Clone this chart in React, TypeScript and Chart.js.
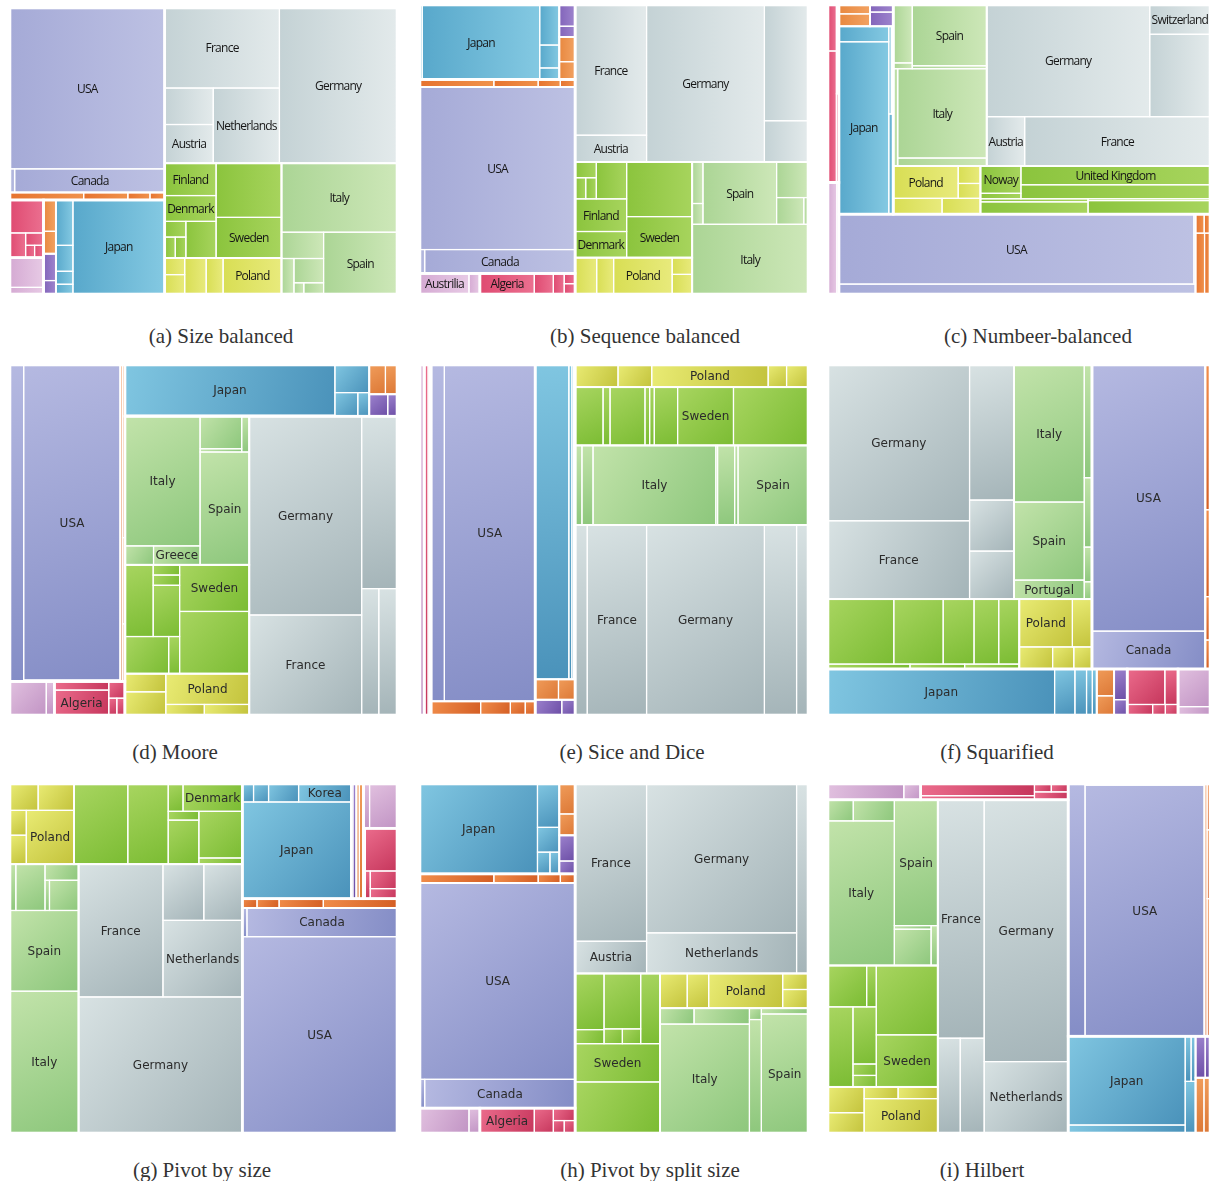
import React, { useEffect, useRef } from "react";
import { Chart, registerables } from "chart.js";

Chart.register(...registerables);

/* ---------- data: share of the total (%) by country, grouped by region ---------- */
const CONTINENTS = ["Americas", "Asia", "Europe", "Africa", "Oceania"];

const REGIONS = [
  "Northern America", "Latin America", "Eastern Asia", "Western Asia", "Southern Asia",
  "Western Europe", "Northern Europe", "Southern Europe", "Eastern Europe", "African states", "Australasia",
];
const REGION_CONTINENT = [
  "Americas", "Americas", "Asia", "Asia", "Asia",
  "Europe", "Europe", "Europe", "Europe", "Africa", "Oceania",
];

const NORTHERN_AMERICA = ["USA", "Bermuda", "Canada"];
const NORTHERN_AMERICA_VALUES = [22.5, 0.1, 3.2];
const LATIN_AMERICA = ["Mexico", "Brazil", "Argentina", "Chile"];
const LATIN_AMERICA_VALUES = [0.5, 0.3, 0.15, 0.1];
const EASTERN_ASIA = ["Japan", "Korea", "China", "Taiwan", "Singapore"];
const EASTERN_ASIA_VALUES = [7.8, 0.7, 0.4, 0.2, 0.15];
const WESTERN_ASIA = ["Israel", "Turkey"];
const WESTERN_ASIA_VALUES = [0.35, 0.25];
const SOUTHERN_ASIA = ["India", "Indonesia"];
const SOUTHERN_ASIA_VALUES = [0.3, 0.15];
const WESTERN_EUROPE = ["Austria", "France", "Germany", "Netherlands", "Switzerland"];
const WESTERN_EUROPE_VALUES = [1.7, 8.3, 16.5, 4.5, 1.6];
const NORTHERN_EUROPE = ["Denmark", "Estonia", "Finland", "Iceland", "Latvia", "Noway", "Sweden", "United Kingdom"];
const NORTHERN_EUROPE_VALUES = [1.2, 0.3, 1.5, 0.2, 0.2, 1.0, 2.4, 3.2];
const SOUTHERN_EUROPE = ["Croatia", "Greece", "Italy", "Malta", "Portugal", "Slovenia", "Spain"];
const SOUTHERN_EUROPE_VALUES = [0.4, 0.65, 7.2, 0.1, 1.0, 0.2, 4.1];
const EASTERN_EUROPE = ["Czechia", "Hungary", "Poland", "Romania", "Slovakia"];
const EASTERN_EUROPE_VALUES = [0.7, 0.55, 1.9, 0.3, 0.35];
const AFRICAN_STATES = ["Algeria", "Egypt", "Morocco", "Tunisia", "South Africa"];
const AFRICAN_STATES_VALUES = [1.0, 0.35, 0.2, 0.1, 0.1];
const AUSTRALASIA = ["Austrilia", "New Zealand"];
const AUSTRALASIA_VALUES = [0.9, 0.2];

const REGION_COUNTRIES = [
  NORTHERN_AMERICA, LATIN_AMERICA, EASTERN_ASIA, WESTERN_ASIA, SOUTHERN_ASIA,
  WESTERN_EUROPE, NORTHERN_EUROPE, SOUTHERN_EUROPE, EASTERN_EUROPE, AFRICAN_STATES, AUSTRALASIA,
];
const REGION_VALUES = [
  NORTHERN_AMERICA_VALUES, LATIN_AMERICA_VALUES, EASTERN_ASIA_VALUES, WESTERN_ASIA_VALUES, SOUTHERN_ASIA_VALUES,
  WESTERN_EUROPE_VALUES, NORTHERN_EUROPE_VALUES, SOUTHERN_EUROPE_VALUES, EASTERN_EUROPE_VALUES,
  AFRICAN_STATES_VALUES, AUSTRALASIA_VALUES,
];

/* sibling order used by each layout (names not listed keep their data order) */
const ORDER_SIZE = [
  "Americas", "Africa", "Oceania", "Asia", "Europe",
  "Northern America", "Latin America", "Western Asia", "Southern Asia", "Eastern Asia",
  "Western Europe", "Northern Europe", "Eastern Europe", "Southern Europe",
  "USA", "Bermuda", "Canada", "Korea", "China", "Taiwan", "Singapore", "Japan",
  "France", "Switzerland", "Austria", "Netherlands", "Germany",
  "Finland", "Denmark", "Estonia", "Iceland", "Latvia", "Noway", "United Kingdom", "Sweden",
  "Italy", "Portugal", "Croatia", "Greece", "Malta", "Slovenia", "Spain",
  "Romania", "Slovakia", "Czechia", "Hungary", "Poland",
];
const ORDER_SEQUENCE = [
  "Asia", "Americas", "Oceania", "Africa", "Europe",
  "Eastern Asia", "Southern Asia", "Western Asia", "Latin America", "Northern America",
  "Western Europe", "Northern Europe", "Eastern Europe", "Southern Europe",
  "Singapore", "Japan", "Korea", "China", "Taiwan", "USA", "Bermuda", "Canada",
  "France", "Austria", "Germany", "Netherlands", "Switzerland",
  "Estonia", "Iceland", "Latvia", "Noway", "Finland", "Denmark", "United Kingdom", "Sweden",
  "Croatia", "Slovenia", "Spain", "Portugal", "Greece", "Malta", "Italy",
];
const ORDER_NUMBER = [
  "Oceania", "Africa", "Americas", "Asia", "Europe",
  "Northern America", "Latin America", "Canada", "USA", "Bermuda",
  "Eastern Asia", "Western Asia", "Southern Asia",
  "Eastern Europe", "Northern Europe", "Southern Europe", "Western Europe",
];
const ORDER_MOORE = [
  "Oceania", "Africa", "Americas", "Asia", "Europe",
  "Northern America", "Latin America", "Canada", "USA", "Bermuda",
  "Eastern Asia", "Western Asia", "Southern Asia", "Singapore", "Japan", "Korea", "China", "Taiwan",
  "Eastern Europe", "Northern Europe", "Southern Europe", "Western Europe",
  "France", "Germany", "Netherlands", "Switzerland", "Austria",
];
const ORDER_SLICE = [
  "Oceania", "Africa", "Americas", "Asia", "Europe",
  "Northern America", "Latin America", "Bermuda", "Canada", "USA",
  "Eastern Asia", "Western Asia", "Southern Asia",
  "Eastern Europe", "Northern Europe", "Southern Europe", "Western Europe",
];
const ORDER_PIVOT_SIZE = [
  "Oceania", "Africa", "Asia", "Americas", "Europe",
  "Western Asia", "Southern Asia", "Eastern Asia", "Korea", "China", "Taiwan", "Singapore", "Japan",
  "Latin America", "Northern America", "Canada", "Bermuda", "USA",
  "Northern Europe", "Eastern Europe", "Western Europe", "Southern Europe",
  "Switzerland", "Austria", "Netherlands", "France", "Germany",
  "Croatia", "Greece", "Malta", "Portugal", "Slovenia", "Spain", "Italy",
];
const ORDER_PIVOT_SPLIT = [
  "Asia", "Americas", "Oceania", "Africa", "Europe",
  "Eastern Asia", "Western Asia", "Southern Asia", "Latin America", "Northern America",
  "USA", "Bermuda", "Canada",
  "Western Europe", "Northern Europe", "Eastern Europe", "Southern Europe",
  "France", "Austria", "Germany", "Netherlands", "Switzerland",
];
const ORDER_HILBERT = [
  "Oceania", "Africa", "Europe", "Asia", "Americas",
  "Southern Europe", "Northern Europe", "Eastern Europe", "Western Europe",
  "Northern America", "Latin America", "Canada", "USA", "Bermuda",
  "Eastern Asia", "Western Asia", "Southern Asia",
  "France", "Switzerland", "Austria", "Netherlands", "Germany",
];

/* cell gradient colours per region: [start, end] */
const FLAT_COLORS = [
  ["#a5aad7", "#bdc1e3"], ["#e6732f", "#f0924c"], ["#58a8cb", "#84c9e2"], ["#e8883f", "#f2a262"],
  ["#8264ba", "#9e84cd"], ["#c4d2d5", "#e3eaeb"], ["#8bc43d", "#a7d45d"], ["#abd595", "#cde7b8"],
  ["#d8de54", "#e8ea7c"], ["#df4a71", "#eb7090"], ["#d5aad3", "#e7cae5"],
];
const DIAGONAL_COLORS = [
  ["#b5b9e1", "#848dc6"], ["#f08c4a", "#d45e24"], ["#80c6e1", "#4a92ba"], ["#f09c5a", "#dc7836"],
  ["#9c82cd", "#6c4ea6"], ["#d8e2e3", "#a4b4b8"], ["#a8d560", "#7bbc33"], ["#c2e3aa", "#8dc77c"],
  ["#e9eb74", "#c3c33c"], ["#eb6c8c", "#c6365c"], ["#e1c0df", "#c194c4"],
];

/* ---------- layout ---------- */
type Rect = { x: number; y: number; w: number; h: number };
type TNode = { name: string; value: number; level: number; region: number; children: TNode[] };
type Placed = { rect: Rect; depth: number };
type Algo = (vals: number[], rect: Rect, depth: number) => Placed[];

const PHI = (1 + Math.sqrt(5)) / 2;
const range = (n: number) => Array.from({ length: n }, (_, i) => i);
const total = (vals: number[], idx: number[]) => idx.reduce((s, i) => s + vals[i], 0);

function buildTree(): TNode {
  const root: TNode = { name: "World", value: 0, level: 0, region: -1, children: [] };
  CONTINENTS.forEach((c) => {
    const cn: TNode = { name: c, value: 0, level: 1, region: -1, children: [] };
    REGIONS.forEach((r, ri) => {
      if (REGION_CONTINENT[ri] !== c) return;
      const kids = REGION_COUNTRIES[ri].map((n, i) => ({
        name: n, value: REGION_VALUES[ri][i], level: 3, region: ri, children: [] as TNode[],
      }));
      const rn: TNode = { name: r, value: kids.reduce((s, k) => s + k.value, 0), level: 2, region: ri, children: kids };
      cn.children.push(rn);
    });
    cn.value = cn.children.reduce((s, k) => s + k.value, 0);
    root.children.push(cn);
  });
  root.value = root.children.reduce((s, k) => s + k.value, 0);
  return root;
}

function splitRect(r: Rect, f: number, alongX: boolean): [Rect, Rect] {
  if (alongX) {
    const w = r.w * f;
    return [{ x: r.x, y: r.y, w, h: r.h }, { x: r.x + w, y: r.y, w: r.w - w, h: r.h }];
  }
  const h = r.h * f;
  return [{ x: r.x, y: r.y, w: r.w, h }, { x: r.x, y: r.y + h, w: r.w, h: r.h - h }];
}

function balancedCut(vals: number[], idx: number[]): number {
  const t = total(vals, idx);
  let acc = 0, best = 1, bestD = Infinity;
  for (let k = 1; k < idx.length; k++) {
    acc += vals[idx[k - 1]];
    const d = Math.abs(2 * acc - t);
    if (d < bestD) { bestD = d; best = k; }
  }
  return best;
}
const halfCount = (_vals: number[], idx: number[]) => Math.floor(idx.length / 2);

function binaryLayout(cut: (v: number[], i: number[]) => number, alternate: boolean): Algo {
  return (vals, rect, depth) => {
    const out: Placed[] = [];
    const rec = (idx: number[], r: Rect, d: number) => {
      if (idx.length === 1) { out[idx[0]] = { rect: r, depth: d }; return; }
      const k = cut(vals, idx);
      const a = idx.slice(0, k), b = idx.slice(k);
      const sa = total(vals, a), sb = total(vals, b);
      const alongX = alternate ? d % 2 === 0 : r.w >= r.h;
      const [ra, rb] = splitRect(r, sa + sb > 0 ? sa / (sa + sb) : 0.5, alongX);
      rec(a, ra, d + 1);
      rec(b, rb, d + 1);
    };
    if (vals.length) rec(range(vals.length), rect, depth);
    return out;
  };
}

const sliceDice: Algo = (vals, rect, depth) => {
  const t = vals.reduce((s, v) => s + v, 0);
  const alongX = depth % 2 === 0;
  let acc = 0;
  return vals.map((v) => {
    const f0 = acc / t;
    acc += v;
    const f1 = acc / t;
    const r = alongX
      ? { x: rect.x + rect.w * f0, y: rect.y, w: rect.w * (f1 - f0), h: rect.h }
      : { x: rect.x, y: rect.y + rect.h * f0, w: rect.w, h: rect.h * (f1 - f0) };
    return { rect: r, depth: depth + 1 };
  });
};

// golden-ratio squarify; a row runs across the width unless the space left is clearly tall
const squarified: Algo = (vals, rect, depth) => {
  const n = vals.length;
  const out: Placed[] = [];
  const idx = range(n).sort((a, b) => vals[b] - vals[a]);
  let r = { ...rect };
  let remaining = total(vals, idx);
  let i = 0;
  while (i < n) {
    const alongX = r.w >= 0.85 * r.h;
    const L = alongX ? r.w : r.h;
    const T = alongX ? r.h : r.w;
    const k = (r.w * r.h) / remaining;
    const score = (s: number, mn: number, mx: number) => {
      const t = (s * k) / L;
      return Math.max((PHI * mx * k) / (t * t), (t * t) / (PHI * mn * k));
    };
    let s = vals[idx[i]], mn = s, mx = s, best = score(s, mn, mx), j = i + 1;
    while (j < n) {
      const v = vals[idx[j]];
      const sc = score(s + v, Math.min(mn, v), Math.max(mx, v));
      if (sc > best) break;
      s += v; mn = Math.min(mn, v); mx = Math.max(mx, v); best = sc; j++;
    }
    const t = j === n ? T : (s / remaining) * T;
    let pos = 0;
    for (let q = i; q < j; q++) {
      const len = (vals[idx[q]] / s) * L;
      out[idx[q]] = {
        rect: alongX ? { x: r.x + pos, y: r.y, w: len, h: t } : { x: r.x, y: r.y + pos, w: t, h: len },
        depth: depth + 1,
      };
      pos += len;
    }
    r = alongX ? { x: r.x, y: r.y + t, w: r.w, h: r.h - t } : { x: r.x + t, y: r.y, w: r.w - t, h: r.h };
    remaining -= s;
    i = j;
  }
  return out;
};

/*
 * Ordered pivot layout. `columnForm`: the pivot always sits in a column with L2 below it
 * and L3 to its right, keeping at least one item in L3.
 */
function pivotLayout(mode: "size" | "split", columnForm: boolean): Algo {
  return (vals, rect, depth) => {
    const out: Placed[] = [];
    const rec = (idx: number[], r: Rect) => {
      const n = idx.length;
      if (!n) return;
      if (n === 1) { out[idx[0]] = { rect: r, depth: depth + 1 }; return; }
      const tot = total(vals, idx);
      let p = 0;
      if (mode === "size") {
        idx.forEach((id, k) => { if (vals[id] > vals[idx[p]]) p = k; });
      } else {
        let acc = 0, bestD = Infinity;
        idx.forEach((id, k) => {
          const d = Math.abs(acc - (tot - acc));
          if (d < bestD) { bestD = d; p = k; }
          acc += vals[id];
        });
      }
      const L1 = idx.slice(0, p), P = idx[p], rest = idx.slice(p + 1);
      const s1 = total(vals, L1), sp = vals[P];
      const wide = r.w >= r.h;
      const [r1, remR] = splitRect(r, s1 / tot, wide);
      const remTot = tot - s1;
      const asColumn = wide || columnForm;
      const geom = (m: number) => {
        const s2 = total(vals, rest.slice(0, m));
        const frac = (sp + s2) / remTot;
        const pf = sp / (sp + s2);
        if (asColumn) {
          const cw = remR.w * frac, ph = remR.h * pf;
          return {
            rp: { x: remR.x, y: remR.y, w: cw, h: ph },
            r2: { x: remR.x, y: remR.y + ph, w: cw, h: remR.h - ph },
            r3: { x: remR.x + cw, y: remR.y, w: remR.w - cw, h: remR.h },
          };
        }
        const rh = remR.h * frac, pw = remR.w * pf;
        return {
          rp: { x: remR.x, y: remR.y, w: pw, h: rh },
          r2: { x: remR.x + pw, y: remR.y, w: remR.w - pw, h: rh },
          r3: { x: remR.x, y: remR.y + rh, w: remR.w, h: remR.h - rh },
        };
      };
      const maxM = columnForm && rest.length > 0 ? rest.length - 1 : rest.length;
      let bestM = 0, bestA = Infinity;
      for (let m = 0; m <= maxM; m++) {
        const { rp } = geom(m);
        const a = Math.max(rp.w / rp.h, rp.h / rp.w);
        if (a < bestA) { bestA = a; bestM = m; }
      }
      const g = geom(bestM);
      out[P] = { rect: g.rp, depth: depth + 1 };
      rec(L1, r1);
      rec(rest.slice(0, bestM), g.r2);
      rec(rest.slice(bestM), g.r3);
    };
    rec(range(vals.length), rect);
    return out;
  };
}

function partition4(vals: number[], idx: number[]): number[][] {
  const n = idx.length;
  let best: number[][] = [], bestC = Infinity;
  for (let a = 1; a < n - 2; a++)
    for (let b = a + 1; b < n - 1; b++)
      for (let c = b + 1; c < n; c++) {
        const g = [idx.slice(0, a), idx.slice(a, b), idx.slice(b, c), idx.slice(c)];
        const cost = g.reduce((s, gi) => s + total(vals, gi) ** 2, 0);
        if (cost < bestC) { bestC = cost; best = g; }
      }
  return best;
}

// space-filling-curve style: two columns, the first run one way and the second run back
function curveLayout(kind: "moore" | "hilbert"): Algo {
  return (vals, rect, depth) => {
    const out: Placed[] = [];
    const stack = (groups: number[][], col: Rect, upward: boolean) => {
      const t = groups.reduce((s, g) => s + total(vals, g), 0);
      let acc = 0;
      groups.forEach((g) => {
        const h = (col.h * total(vals, g)) / t;
        const y = upward ? col.y + col.h - acc - h : col.y + acc;
        acc += h;
        rec(g, { x: col.x, y, w: col.w, h });
      });
    };
    const rec = (idx: number[], r: Rect) => {
      const n = idx.length;
      if (!n) return;
      if (n === 1) { out[idx[0]] = { rect: r, depth: depth + 1 }; return; }
      let colA: number[][], colB: number[][];
      if (n >= 5) {
        const g = partition4(vals, idx);
        colA = [g[0], g[1]];
        colB = [g[2], g[3]];
      } else {
        const k = balancedCut(vals, idx);
        colA = idx.slice(0, k).map((i) => [i]);
        colB = idx.slice(k).map((i) => [i]);
      }
      const sA = colA.reduce((s, g) => s + total(vals, g), 0);
      const sB = colB.reduce((s, g) => s + total(vals, g), 0);
      const [ra, rb] = splitRect(r, sA / (sA + sB), true);
      stack(colA, ra, kind === "moore");
      stack(colB, rb, kind !== "moore");
    };
    rec(range(vals.length), rect);
    return out;
  };
}

type Cell = { node: TNode; rect: Rect };

function layoutTree(node: TNode, rect: Rect, depth: number, algo: Algo, order: string[], out: Cell[]) {
  out.push({ node, rect });
  if (!node.children.length) return;
  const rank = (c: TNode) => {
    const i = order.indexOf(c.name);
    return i >= 0 ? i : 1000 + node.children.indexOf(c);
  };
  const kids = [...node.children].sort((a, b) => rank(a) - rank(b));
  const placed = algo(kids.map((k) => k.value), rect, depth);
  kids.forEach((k, i) => layoutTree(k, placed[i].rect, placed[i].depth, algo, order, out));
}

/* ---------- panels ---------- */
type Panel = {
  caption: string; algo: Algo; order: string[]; flipX?: boolean; flipY?: boolean;
  left: number; top: number; w: number; h: number; capX: number; capY: number; flat: boolean;
};

const PANELS: Panel[] = [
  { caption: "(a) Size balanced", algo: binaryLayout(balancedCut, false), order: ORDER_SIZE,
    left: 10, top: 8, w: 387, h: 286, capX: 221, capY: 336, flat: true },
  { caption: "(b) Sequence balanced", algo: binaryLayout(balancedCut, false), order: ORDER_SEQUENCE,
    left: 420, top: 5, w: 388, h: 289, capX: 645, capY: 336, flat: true },
  { caption: "(c) Numbeer-balanced", algo: binaryLayout(halfCount, true), order: ORDER_NUMBER, flipY: true,
    left: 828, top: 5, w: 382, h: 289, capX: 1038, capY: 336, flat: true },
  { caption: "(d) Moore", algo: curveLayout("moore"), order: ORDER_MOORE,
    left: 10, top: 365, w: 387, h: 350, capX: 175, capY: 752, flat: false },
  { caption: "(e) Sice and Dice", algo: sliceDice, order: ORDER_SLICE,
    left: 420, top: 365, w: 388, h: 350, capX: 632, capY: 752, flat: false },
  { caption: "(f) Squarified", algo: squarified, order: [],
    left: 828, top: 365, w: 382, h: 350, capX: 997, capY: 752, flat: false },
  { caption: "(g) Pivot by size", algo: pivotLayout("size", true), order: ORDER_PIVOT_SIZE, flipX: true,
    left: 10, top: 784, w: 387, h: 349, capX: 202, capY: 1170, flat: false },
  { caption: "(h) Pivot by split size", algo: pivotLayout("split", false), order: ORDER_PIVOT_SPLIT,
    left: 420, top: 784, w: 388, h: 349, capX: 650, capY: 1170, flat: false },
  { caption: "(i) Hilbert", algo: curveLayout("hilbert"), order: ORDER_HILBERT,
    left: 828, top: 784, w: 382, h: 349, capX: 982, capY: 1170, flat: false },
];

const treemapPlugin = {
  id: "treemapCells",
  afterDatasetsDraw(chart: any) {
    const { ctx } = chart;
    const xs = chart.scales.x, ys = chart.scales.y;
    const flat = chart.options.plugins.treemapCells.flat;
    const cells: any[] = chart.data.datasets[0].data;
    const box = (c: any) => {
      const a = xs.getPixelForValue(c.x0), b = xs.getPixelForValue(c.x1);
      const p = ys.getPixelForValue(c.y0), q = ys.getPixelForValue(c.y1);
      return { l: Math.min(a, b), r: Math.max(a, b), t: Math.min(p, q), b: Math.max(p, q) };
    };
    ctx.save();
    const leaves = cells.filter((c) => c.level === 3);
    leaves.forEach((c) => {
      const r = box(c);
      if (r.r - r.l <= 0 || r.b - r.t <= 0) return;
      const [c0, c1] = (flat ? FLAT_COLORS : DIAGONAL_COLORS)[c.region];
      const g = flat ? ctx.createLinearGradient(r.l, 0, r.r, 0) : ctx.createLinearGradient(r.l, r.t, r.r, r.b);
      g.addColorStop(0, c0);
      g.addColorStop(1, c1);
      ctx.fillStyle = g;
      ctx.fillRect(r.l, r.t, r.r - r.l, r.b - r.t);
    });
    ctx.strokeStyle = "#ffffff";
    [[3, 1.2], [2, 1.8], [1, 2.6]].forEach(([lvl, lw]) => {
      ctx.lineWidth = lw;
      cells.filter((c) => c.level === lvl).forEach((c) => {
        const r = box(c);
        ctx.strokeRect(r.l, r.t, r.r - r.l, r.b - r.t);
      });
    });
    ctx.fillStyle = flat ? "#161616" : "#2b2b2b";
    ctx.font = flat ? '12px "Open Sans"' : '12px "DejaVu Sans"';
    (ctx as any).letterSpacing = flat ? "-0.75px" : "0px";
    ctx.textAlign = "center";
    ctx.textBaseline = "middle";
    leaves.forEach((c) => {
      const r = box(c);
      const tw = ctx.measureText(c.name).width;
      if (tw + 3 > r.r - r.l || r.b - r.t < 16) return;
      ctx.fillText(c.name, (r.l + r.r) / 2, (r.t + r.b) / 2 + 1);
    });
    ctx.restore();
  },
};

function TreemapPanel({ panel }: { panel: Panel }) {
  const ref = useRef<HTMLCanvasElement>(null);
  useEffect(() => {
    const canvas = ref.current;
    if (!canvas) return;
    const cells: Cell[] = [];
    layoutTree(buildTree(), { x: 0, y: 0, w: panel.w, h: panel.h }, 0, panel.algo, panel.order, cells);
    const data = cells
      .filter((c) => c.node.level > 0)
      .map((c) => {
        let { x, y, w, h } = c.rect;
        if (panel.flipX) x = panel.w - x - w;
        if (panel.flipY) y = panel.h - y - h;
        return {
          x: x + w / 2, y: y + h / 2, x0: x, x1: x + w, y0: y, y1: y + h,
          name: c.node.name, level: c.node.level, region: c.node.region,
        };
      });
    const chart = new Chart(canvas, {
      type: "scatter",
      data: { datasets: [{ data: data as any, pointRadius: 0, pointHoverRadius: 0 }] },
      options: {
        animation: false,
        responsive: false,
        events: [],
        layout: { padding: 0 },
        plugins: {
          legend: { display: false },
          tooltip: { enabled: false },
          treemapCells: { flat: panel.flat },
        } as any,
        scales: {
          x: { type: "linear", min: 0, max: panel.w, display: false },
          y: { type: "linear", min: 0, max: panel.h, reverse: true, display: false },
        },
      },
      plugins: [treemapPlugin],
    });
    return () => chart.destroy();
  }, [panel]);
  return (
    <>
      <canvas
        ref={ref}
        width={panel.w}
        height={panel.h}
        style={{ position: "absolute", left: panel.left, top: panel.top, width: panel.w, height: panel.h }}
      />
      <div
        style={{
          position: "absolute", left: panel.capX, top: panel.capY - 12, transform: "translateX(-50%)",
          font: '21px "Liberation Serif", "Times New Roman", serif', lineHeight: "24px",
          color: "#333", whiteSpace: "nowrap",
        }}
      >
        {panel.caption}
      </div>
    </>
  );
}

export default function App() {
  return (
    <div style={{ position: "absolute", left: 0, top: 0, width: 1210, height: 1181, overflow: "hidden", background: "#fff" }}>
      {PANELS.map((p) => (
        <TreemapPanel key={p.caption} panel={p} />
      ))}
    </div>
  );
}
